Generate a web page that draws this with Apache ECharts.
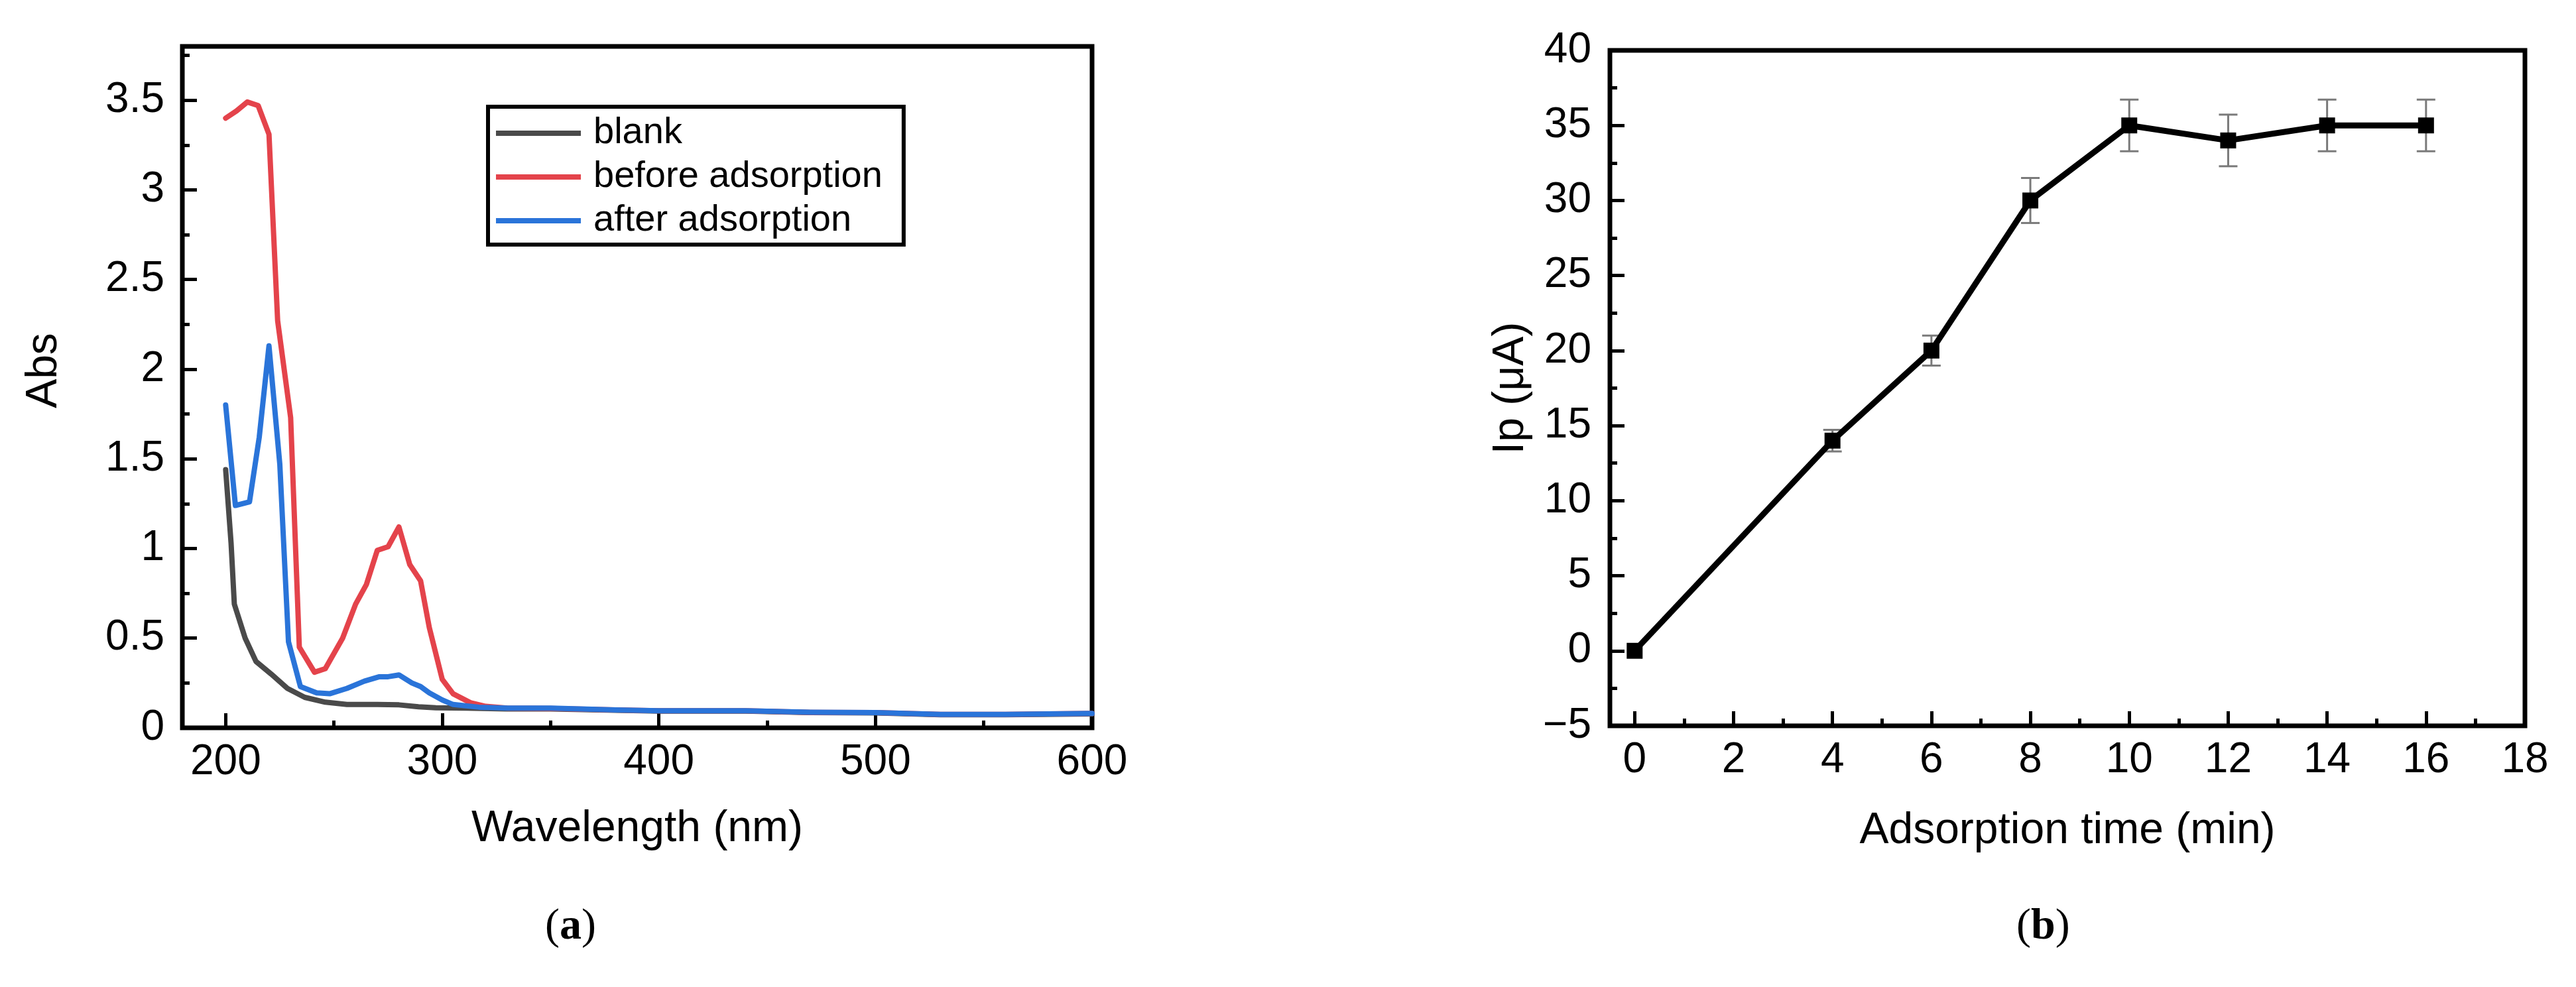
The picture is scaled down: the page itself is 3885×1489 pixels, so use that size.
<!DOCTYPE html>
<html>
<head>
<meta charset="utf-8">
<script src="https://cdn.jsdelivr.net/npm/echarts@6/dist/echarts.min.js"></script>
<style>
html,body{margin:0;padding:0;background:#fff;}
#chart{width:3885px;height:1489px;}
</style>
</head>
<body>
<div id="chart"></div>
<script>
// ---------- Panel (a): UV-Vis spectra ----------
const blankWl  = [200, 202.5, 204, 209, 214, 221, 228.5, 236.5, 246, 256, 270, 280, 289, 297, 311, 330, 350, 380, 400, 440, 470, 500, 530, 560, 600];
const blankAbs = [1.44, 1.03, 0.69, 0.50, 0.37, 0.30, 0.22, 0.17, 0.143, 0.13, 0.13, 0.128, 0.117, 0.112, 0.11, 0.105, 0.105, 0.098, 0.093, 0.093, 0.085, 0.083, 0.073, 0.073, 0.078];

const beforeWl  = [200, 205, 210, 215, 220, 224, 230, 234, 241, 246, 254, 260, 265, 270, 275, 280, 285, 290, 294, 300, 305, 313, 320, 330, 350, 380, 400, 440, 470, 500, 530, 560, 600];
const beforeAbs = [3.40, 3.44, 3.49, 3.47, 3.31, 2.27, 1.73, 0.45, 0.31, 0.33, 0.50, 0.69, 0.80, 0.99, 1.01, 1.12, 0.91, 0.82, 0.56, 0.27, 0.19, 0.14, 0.12, 0.11, 0.108, 0.10, 0.095, 0.095, 0.086, 0.085, 0.075, 0.075, 0.08];

const afterWl  = [200, 204.5, 211, 215.5, 220, 225, 229, 234.5, 242, 248, 256, 264, 271, 275, 280, 286, 290, 294, 300, 305, 317, 330, 350, 380, 400, 440, 470, 500, 530, 560, 600];
const afterAbs = [1.80, 1.24, 1.26, 1.62, 2.13, 1.47, 0.48, 0.23, 0.195, 0.19, 0.22, 0.26, 0.285, 0.285, 0.295, 0.25, 0.23, 0.195, 0.155, 0.13, 0.115, 0.11, 0.11, 0.10, 0.095, 0.095, 0.087, 0.085, 0.075, 0.075, 0.08];

const aXTicks = [200, 300, 400, 500, 600];
const aXMinor = [250, 350, 450, 550];
const aYTicks = [0, 0.5, 1, 1.5, 2, 2.5, 3, 3.5];
const aYMinor = [0.25, 0.75, 1.25, 1.75, 2.25, 2.75, 3.25, 3.75];

// ---------- Panel (b): Ip vs adsorption time ----------
const timeMin = [0, 4, 6, 8, 10, 12, 14, 16];
const ipVals  = [0, 14, 20, 30, 35, 34, 35, 35];
const ipErr   = [0, 0.72, 1.0, 1.5, 1.72, 1.72, 1.72, 1.72];

const bXTicks = [0, 2, 4, 6, 8, 10, 12, 14, 16, 18];
const bXMinor = [1, 3, 5, 7, 9, 11, 13, 15, 17];
const bYTicks = [-5, 0, 5, 10, 15, 20, 25, 30, 35, 40];
const bYMinor = [-2.5, 2.5, 7.5, 12.5, 17.5, 22.5, 27.5, 32.5, 37.5];

const FONT = '"Liberation Sans", Arial, Helvetica, sans-serif';
const SERIF = '"Liberation Serif", "Times New Roman", serif';
const C_BLANK = '#4a4a4a', C_BEFORE = '#e4434b', C_AFTER = '#2a74d9';

const zip = (a, b) => a.map((v, i) => [v, b[i]]);

function mainAxis(opts) {
  return Object.assign({
    type: 'value',
    axisLine: {show: false, onZero: false},
    splitLine: {show: false},
    axisTick: {show: true, inside: true, length: 22, customValues: opts.ticks,
               lineStyle: {color: '#000', width: 5}},
    axisLabel: {show: true, customValues: opts.ticks, color: '#000', fontSize: 64,
                fontFamily: FONT, margin: opts.margin,
                formatter: v => String(v).replace('-', '\u2212')},
    nameTextStyle: Object.assign({color: '#000', fontSize: 66, fontFamily: FONT}, opts.nameStyle || {})
  }, opts.extra);
}
function minorAxis(opts) {
  return Object.assign({
    type: 'value',
    axisLine: {show: false, onZero: false},
    splitLine: {show: false},
    axisLabel: {show: false},
    axisTick: {show: true, inside: true, length: 11, customValues: opts.ticks,
               lineStyle: {color: '#000', width: 5}}
  }, opts.extra);
}

const chart = echarts.init(document.getElementById('chart'), null, {renderer: 'canvas'});

const labelRich = {
  p: {fontFamily: SERIF, fontSize: 66, fill: '#000'},
  b: {fontFamily: SERIF, fontSize: 66, fontWeight: 'bold', fill: '#000'}
};

const option = {
  backgroundColor: '#ffffff',
  animation: false,
  textStyle: {fontFamily: FONT},
  grid: [
    {left: 275, top: 70, width: 1372, height: 1028, show: true, borderColor: '#000', borderWidth: 7,
     backgroundColor: 'transparent', outerBoundsMode: 'none', containLabel: false},
    {left: 2428, top: 76, width: 1380, height: 1019, show: true, borderColor: '#000', borderWidth: 7,
     backgroundColor: 'transparent', outerBoundsMode: 'none', containLabel: false}
  ],
  xAxis: [
    mainAxis({ticks: aXTicks, margin: 20, extra: {gridIndex: 0, min: 180, max: 600, position: 'bottom',
      name: 'Wavelength (nm)', nameLocation: 'middle', nameGap: 120}}),
    minorAxis({ticks: aXMinor, extra: {gridIndex: 0, min: 180, max: 600, position: 'bottom', offset: 0}}),
    mainAxis({ticks: bXTicks, margin: 20, extra: {gridIndex: 1, min: -0.5, max: 18, position: 'bottom',
      name: 'Adsorption time (min)', nameLocation: 'middle', nameGap: 126}}),
    minorAxis({ticks: bXMinor, extra: {gridIndex: 1, min: -0.5, max: 18, position: 'bottom', offset: 0}})
  ],
  yAxis: [
    mainAxis({ticks: aYTicks, margin: 27, nameStyle: {padding: [0, 0, 0, 50]},
      extra: {gridIndex: 0, min: 0, max: 3.8, position: 'left',
      name: 'Abs', nameLocation: 'middle', nameGap: 175}}),
    minorAxis({ticks: aYMinor, extra: {gridIndex: 0, min: 0, max: 3.8, position: 'left', offset: 0}}),
    mainAxis({ticks: bYTicks, margin: 28, extra: {gridIndex: 1, min: -5, max: 40, position: 'left',
      name: 'Ip (\u03BCA)', nameLocation: 'middle', nameGap: 116}}),
    minorAxis({ticks: bYMinor, extra: {gridIndex: 1, min: -5, max: 40, position: 'left', offset: 0}})
  ],
  legend: {
    data: ['blank', 'before adsorption', 'after adsorption'],
    orient: 'vertical',
    left: 736, top: 161,
    icon: 'rect',
    itemWidth: 128, itemHeight: 8, itemGap: 10,
    padding: [12, 32, 8, 12],
    borderColor: '#000', borderWidth: 6,
    backgroundColor: '#fff',
    textStyle: {color: '#000', fontSize: 56, lineHeight: 56, fontFamily: FONT, padding: [0, 0, 0, 14]}
  },
  series: [
    {name: 'blank', type: 'line', xAxisIndex: 0, yAxisIndex: 0, data: zip(blankWl, blankAbs),
     showSymbol: false, symbol: 'none', color: C_BLANK,
     lineStyle: {color: C_BLANK, width: 8, join: 'round', cap: 'round'}},
    {name: 'before adsorption', type: 'line', xAxisIndex: 0, yAxisIndex: 0, data: zip(beforeWl, beforeAbs),
     showSymbol: false, symbol: 'none', color: C_BEFORE,
     lineStyle: {color: C_BEFORE, width: 8, join: 'round', cap: 'round'}},
    {name: 'after adsorption', type: 'line', xAxisIndex: 0, yAxisIndex: 0, data: zip(afterWl, afterAbs),
     showSymbol: false, symbol: 'none', color: C_AFTER,
     lineStyle: {color: C_AFTER, width: 8, join: 'round', cap: 'round'}},
    {name: 'err', type: 'custom', xAxisIndex: 2, yAxisIndex: 2, z: 1,
     data: timeMin.map((t, i) => [t, ipVals[i], ipErr[i]]),
     renderItem: function (params, api) {
       const x = api.value(0), y = api.value(1), e = api.value(2);
       if (!e) return null;
       const top = api.coord([x, y + e]);
       const bot = api.coord([x, y - e]);
       const hw = 14;
       const st = {stroke: '#7a7a7a', lineWidth: 3};
       return {type: 'group', children: [
         {type: 'line', shape: {x1: top[0], y1: top[1], x2: bot[0], y2: bot[1]}, style: st},
         {type: 'line', shape: {x1: top[0] - hw, y1: top[1], x2: top[0] + hw, y2: top[1]}, style: st},
         {type: 'line', shape: {x1: bot[0] - hw, y1: bot[1], x2: bot[0] + hw, y2: bot[1]}, style: st}
       ]};
     }},
    {name: 'Ip', type: 'line', xAxisIndex: 2, yAxisIndex: 2, z: 3, data: zip(timeMin, ipVals),
     symbol: 'rect', symbolSize: 24, showSymbol: true, color: '#000',
     itemStyle: {color: '#000'},
     lineStyle: {color: '#000', width: 9, join: 'round'}}
  ],
  graphic: [
    {type: 'text', left: 822, top: 1366, style: {text: '{p|(}{b|a}{p|)}', rich: labelRich}},
    {type: 'text', left: 3041, top: 1366, style: {text: '{p|(}{b|b}{p|)}', rich: labelRich}}
  ]
};
chart.setOption(option);
</script>
</body>
</html>
